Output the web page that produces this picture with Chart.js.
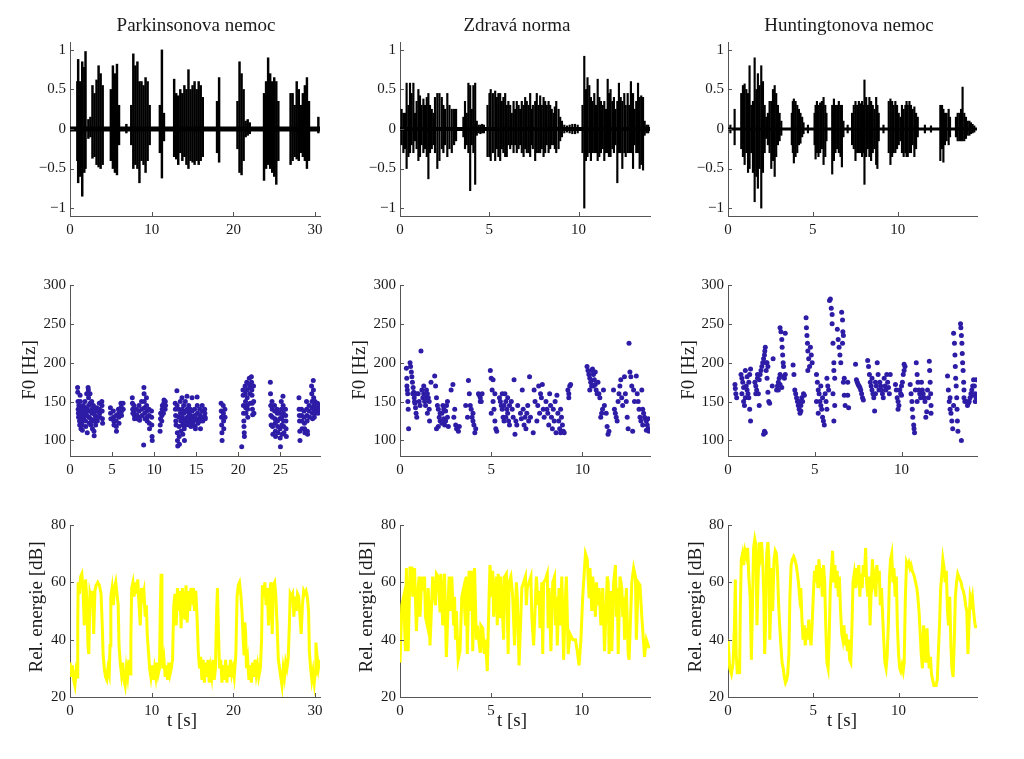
<!DOCTYPE html>
<html>
<head>
<meta charset="utf-8">
<script src="https://cdn.jsdelivr.net/npm/chart.js@4.4.0/dist/chart.umd.min.js"></script>
<style>
body { margin: 0; background: #fff; }
#page { position: relative; width: 1024px; height: 759px; overflow: hidden;
        font-family: "Liberation Serif", "DejaVu Serif", serif; color: #1a1a1a; }
#page canvas { position: absolute; }
.lbl { position: absolute; font-size: 19px; line-height: 24px; white-space: nowrap; }
.rot { transform: translate(-50%, -50%) rotate(-90deg); }
</style>
</head>
<body>
<div id="page"></div>
<script>
// Speech signal, F0 and relative energy for three speakers

const titles = ['Parkinsonova nemoc', 'Zdravá norma', 'Huntingtonova nemoc'];

// axis limits (seconds)
const parkDur = 30.6, parkF0Dur = 29.7;
const normDur = 14.0, normF0Dur = 13.7, normEnDur = 13.75;
const huntDur = 14.67, huntF0Dur = 14.35, huntEnDur = 14.6;

// tick labels
const waveTicksY = [-1, -0.5, 0, 0.5, 1];
const f0TicksY = [100, 150, 200, 250, 300];
const enTicksY = [20, 40, 60, 80];
const parkTicksX = [0, 10, 20, 30];
const parkF0TicksX = [0, 5, 10, 15, 20, 25];
const shortTicksX = [0, 5, 10];

// waveform envelope: [time s, min, max]
const parkWave = [
  [0.9,-0.4,0.6],[1.0,-0.68,0.88],[1.25,-0.6,0.6],[1.5,-0.85,0.85],[1.75,-0.55,0.78],[1.9,-0.5,0.98],
  [2.25,-0.12,0.12],[2.5,-0.1,0.15],[2.75,-0.37,0.55],[3.0,-0.35,0.45],[3.25,-0.45,0.62],[3.5,-0.48,0.8],
  [3.75,-0.5,0.7],[4.0,-0.45,0.55],
  [5.0,-0.4,0.5],[5.25,-0.5,0.8],[5.5,-0.55,0.7],[5.75,-0.58,0.82],[6.0,-0.2,0.3],
  [6.9,-0.05,0.06],
  [7.5,-0.2,0.3],[7.75,-0.5,0.95],[8.0,-0.45,0.8],[8.25,-0.5,0.85],[8.5,-0.68,0.6],[8.75,-0.4,0.6],
  [9.0,-0.45,0.55],[9.25,-0.55,0.65],[9.5,-0.4,0.6],[9.75,-0.2,0.3],
  [11.0,-0.3,0.3],[11.25,-0.62,1.0],[11.5,-0.15,0.2],
  [12.75,-0.35,0.63],[13.0,-0.38,0.45],[13.25,-0.45,0.42],[13.5,-0.3,0.5],[13.75,-0.4,0.45],[14.0,-0.35,0.55],
  [14.25,-0.45,0.5],[14.5,-0.5,0.75],[14.75,-0.4,0.5],[15.0,-0.42,0.55],[15.25,-0.45,0.6],[15.5,-0.4,0.5],
  [15.75,-0.45,0.6],[16.0,-0.4,0.55],[16.25,-0.35,0.4],
  [18.0,-0.3,0.35],[18.25,-0.42,0.65],
  [20.5,-0.25,0.35],[20.75,-0.55,0.85],[21.0,-0.58,0.7],[21.25,-0.4,0.5],[21.5,-0.1,0.1],[21.75,-0.08,0.12],[22.0,-0.06,0.08],
  [23.75,-0.65,0.45],[24.0,-0.5,0.6],[24.25,-0.45,0.9],[24.5,-0.5,0.7],[24.75,-0.55,0.6],[25.0,-0.6,0.65],
  [25.25,-0.7,0.6],[25.5,-0.4,0.35],
  [27.0,-0.45,0.45],[27.25,-0.4,0.45],[27.5,-0.35,0.3],[27.75,-0.38,0.6],[28.0,-0.4,0.5],[28.25,-0.3,0.3],
  [28.5,-0.35,0.45],[28.75,-0.4,0.55],[29.0,-0.5,0.65],[29.25,-0.4,0.35],
  [30.4,-0.05,0.15]
];
const normWave = [
  [0.09,-0.2,0.25],[0.19,-0.3,0.2],[0.28,-0.25,0.2],[0.37,-0.5,0.58],[0.47,-0.35,0.3],[0.56,-0.3,0.58],
  [0.65,-0.2,0.45],[0.75,-0.3,0.58],[0.84,-0.15,0.2],[0.93,-0.25,0.35],[1.03,-0.4,0.5],[1.12,-0.35,0.42],
  [1.21,-0.2,0.3],[1.31,-0.3,0.38],[1.40,-0.25,0.3],[1.50,-0.35,0.4],[1.59,-0.63,0.45],[1.68,-0.3,0.3],
  [1.78,-0.25,0.25],[1.87,-0.2,0.2],[1.96,-0.3,0.4],[2.09,-0.5,0.45],[2.21,-0.4,0.45],[2.34,-0.25,0.4],
  [2.43,-0.3,0.3],[2.52,-0.2,0.25],[2.65,-0.35,0.45],[2.77,-0.25,0.3],[2.90,-0.3,0.25],[3.03,-0.2,0.25],[3.14,-0.15,0.25],
  [3.55,-0.1,0.15],[3.64,-0.25,0.35],[3.74,-0.2,0.2],[3.83,-0.3,0.58],[3.93,-0.78,0.55],[4.02,-0.2,0.25],
  [4.11,-0.3,0.55],[4.21,-0.7,0.58],[4.30,-0.08,0.1],[4.4,-0.05,0.05],[4.5,-0.06,0.05],[4.6,-0.05,0.06],[4.7,-0.05,0.05],
  [4.90,-0.35,0.3],[5.01,-0.35,0.45],[5.08,-0.4,0.5],[5.20,-0.3,0.45],[5.33,-0.4,0.48],[5.42,-0.25,0.4],
  [5.51,-0.35,0.45],[5.61,-0.4,0.45],[5.70,-0.25,0.35],[5.79,-0.3,0.4],[5.89,-0.35,0.45],[5.98,-0.35,0.3],
  [6.07,-0.2,0.35],[6.17,-0.25,0.3],[6.26,-0.2,0.2],[6.36,-0.3,0.35],[6.45,-0.2,0.25],[6.54,-0.3,0.35],
  [6.64,-0.25,0.3],[6.73,-0.2,0.25],
  [6.82,-0.3,0.35],[6.92,-0.35,0.3],[7.01,-0.25,0.4],[7.10,-0.3,0.35],[7.20,-0.3,0.3],[7.29,-0.35,0.45],
  [7.37,-0.2,0.25],[7.44,-0.25,0.3],[7.57,-0.4,0.35],[7.66,-0.3,0.45],[7.76,-0.3,0.3],[7.85,-0.3,0.42],
  [7.94,-0.25,0.3],[8.04,-0.35,0.4],[8.13,-0.3,0.35],[8.22,-0.2,0.3],[8.32,-0.3,0.35],[8.41,-0.25,0.3],
  [8.50,-0.2,0.25],[8.60,-0.2,0.2],[8.67,-0.25,0.28],[8.75,-0.3,0.35],[8.88,-0.25,0.25],[8.97,-0.15,0.15],[9.07,-0.1,0.1],
  [9.2,-0.05,0.05],[9.35,-0.04,0.04],[9.5,-0.05,0.05],[9.65,-0.06,0.06],[9.8,-0.06,0.06],[9.95,-0.05,0.05],
  [10.22,-0.3,0.3],[10.32,-1.0,0.92],[10.41,-0.4,0.5],[10.50,-0.35,0.65],[10.60,-0.3,0.55],[10.69,-0.4,0.4],
  [10.79,-0.3,0.35],[10.88,-0.3,0.45],[10.97,-0.3,0.3],[11.07,-0.4,0.63],[11.16,-0.35,0.4],[11.25,-0.3,0.35],
  [11.35,-0.25,0.3],[11.44,-0.4,0.35],[11.53,-0.3,0.25],[11.63,-0.3,0.63],[11.70,-0.35,0.45],[11.79,-0.35,0.5],
  [11.89,-0.25,0.35],[11.98,-0.3,0.4],[12.07,-0.2,0.25],[12.17,-0.68,0.35],[12.26,-0.3,0.58],[12.36,-0.3,0.4],
  [12.45,-0.5,0.35],[12.56,-0.3,0.45],[12.64,-0.35,0.3],[12.75,-0.3,0.45],[12.84,-0.3,0.3],[12.93,-0.3,0.6],
  [13.05,-0.5,0.45],[13.14,-0.2,0.25],[13.23,-0.3,0.35],[13.33,-0.3,0.58],[13.42,-0.5,0.4],[13.51,-0.45,0.42],
  [13.61,-0.52,0.4],[13.70,-0.08,0.1],[13.8,-0.05,0.05],[13.9,-0.05,0.05]
];
const huntWave = [
  [0.14,-0.05,0.05],[0.39,-0.2,0.25],
  [0.78,-0.25,0.45],[0.88,-0.35,0.55],[0.98,-0.45,0.57],[1.08,-0.3,0.5],[1.18,-0.55,0.45],[1.27,-0.5,0.8],
  [1.37,-0.3,0.3],[1.47,-0.55,0.35],[1.57,-0.92,0.9],[1.67,-0.6,0.5],[1.76,-0.75,0.7],[1.86,-0.5,0.55],
  [1.96,-1.0,0.8],[2.06,-0.55,0.6],[2.16,-0.3,0.3],[2.25,-0.12,0.15],[2.35,-0.2,0.2],[2.45,-0.3,0.35],
  [2.55,-0.5,0.35],[2.65,-0.4,0.5],[2.75,-0.6,0.55],[2.84,-0.35,0.45],[2.94,-0.2,0.3],[3.04,-0.15,0.2],[3.14,-0.08,0.1],
  [3.76,-0.2,0.2],[3.82,-0.3,0.35],[3.88,-0.43,0.38],[3.98,-0.35,0.35],[4.08,-0.3,0.3],[4.18,-0.2,0.25],
  [4.27,-0.18,0.2],[4.37,-0.1,0.15],[4.45,-0.06,0.08],[4.71,-0.05,0.05],
  [5.10,-0.2,0.2],[5.16,-0.38,0.3],[5.24,-0.3,0.35],[5.33,-0.35,0.3],[5.43,-0.3,0.33],[5.53,-0.25,0.35],
  [5.63,-0.45,0.4],[5.73,-0.35,0.3],[5.80,-0.15,0.2],
  [6.14,-0.57,0.3],[6.24,-0.4,0.38],[6.33,-0.3,0.3],[6.43,-0.25,0.3],[6.53,-0.3,0.35],[6.63,-0.35,0.3],
  [6.71,-0.48,0.3],[6.80,-0.1,0.1],[7.05,-0.05,0.05],
  [7.31,-0.2,0.2],[7.41,-0.25,0.3],[7.51,-0.4,0.35],[7.61,-0.3,0.3],[7.71,-0.3,0.35],[7.80,-0.3,0.32],
  [7.90,-0.35,0.35],[7.98,-0.3,0.3],[8.04,-0.7,0.62],[8.14,-0.35,0.4],[8.24,-0.25,0.3],[8.33,-0.35,0.4],
  [8.43,-0.4,0.35],[8.53,-0.3,0.3],[8.63,-0.25,0.25],[8.73,-0.45,0.4],[8.80,-0.5,0.3],[8.88,-0.15,0.2],
  [9.16,-0.05,0.05],
  [9.47,-0.3,0.35],[9.57,-0.45,0.38],[9.67,-0.35,0.35],[9.76,-0.3,0.3],[9.86,-0.3,0.35],[9.96,-0.25,0.3],
  [10.06,-0.2,0.2],[10.16,-0.15,0.15],[10.25,-0.3,0.3],[10.35,-0.35,0.25],[10.45,-0.3,0.3],[10.52,-0.35,0.35],
  [10.59,-0.35,0.3],[10.69,-0.3,0.35],[10.78,-0.3,0.3],[10.88,-0.2,0.25],[10.98,-0.35,0.28],[11.08,-0.25,0.2],[11.18,-0.1,0.15],
  [11.6,-0.05,0.05],[11.96,-0.04,0.04],
  [12.51,-0.4,0.3],[12.61,-0.25,0.3],[12.69,-0.42,0.25],[12.78,-0.2,0.2],[12.88,-0.15,0.2],[13.0,-0.2,0.25],[13.08,-0.1,0.15],
  [13.43,-0.1,0.15],[13.53,-0.15,0.2],[13.63,-0.15,0.2],[13.73,-0.15,0.25],[13.82,-0.15,0.53],[13.92,-0.15,0.2],
  [14.02,-0.12,0.15],[14.12,-0.08,0.1],[14.22,-0.08,0.1],[14.31,-0.06,0.08],[14.41,-0.05,0.06],[14.51,-0.04,0.04]
];

// fundamental frequency: [time s, Hz]
const parkF0 = [
  [0.90,168],[0.92,162],[0.95,150],[0.97,140],[1.00,135],[1.02,130],[1.05,145],[1.08,138],[1.10,132],[1.13,125],[1.15,120],
  [1.20,158],[1.22,150],[1.25,142],[1.27,135],[1.30,115],[1.38,140],[1.40,130],[1.42,125],[1.45,120],[1.47,113],
  [1.58,145],[1.60,138],[1.62,132],[1.65,128],[1.78,150],[1.80,142],[1.82,135],[1.85,125],[1.87,118],
  [1.98,160],[2.00,140],[2.02,132],[2.05,110],[2.15,168],[2.18,165],[2.20,155],[2.22,145],[2.25,138],[2.27,130],[2.30,122],
  [2.38,160],[2.40,148],[2.42,138],[2.45,128],[2.47,120],[2.58,150],[2.60,140],[2.62,135],[2.65,125],[2.67,115],
  [2.78,145],[2.80,135],[2.82,125],[2.85,112],[2.87,106],[2.98,140],[3.00,132],[3.02,128],[3.05,120],
  [3.18,142],[3.20,138],[3.22,130],[3.25,125],[3.48,148],[3.50,140],[3.52,135],[3.55,130],
  [3.78,150],[3.80,145],[3.82,138],[3.85,128],[3.87,122],
  [4.80,142],[4.82,135],[4.85,128],[5.15,138],[5.18,130],[5.20,125],[5.22,120],[5.45,132],[5.48,125],[5.50,118],[5.52,112],
  [5.75,140],[5.78,135],[5.80,130],[5.82,122],[6.05,148],[6.08,143],[6.10,137],[6.12,132],[6.30,148],[6.32,140],
  [7.40,155],[7.42,148],[7.45,140],[7.47,135],[7.60,145],[7.62,138],[7.65,132],[7.67,128],[7.90,140],[7.92,133],[7.95,128],
  [8.20,145],[8.22,138],[8.25,130],[8.27,126],[8.50,150],[8.52,140],[8.55,132],[8.78,168],[8.80,160],[8.82,150],
  [8.85,142],[8.87,135],[8.90,128],[8.75,94],[9.08,155],[9.10,145],[9.12,138],[9.15,130],[9.17,125],
  [9.38,140],[9.40,132],[9.42,122],[9.45,115],[9.68,138],[9.70,130],[9.72,120],[9.75,105],[9.77,100],
  [10.70,112],[10.72,120],[10.75,128],[10.77,135],[10.90,125],[10.92,132],[10.95,140],[10.97,145],
  [11.10,135],[11.12,142],[11.15,148],[11.17,152],[11.30,140],[11.32,150],[11.35,145],
  [12.50,148],[12.52,140],[12.55,132],[12.57,125],[12.60,120],[12.70,164],[12.72,145],[12.75,110],[12.77,100],[12.80,93],
  [12.90,140],[12.92,130],[12.95,118],[12.97,105],[13.00,95],[13.10,150],[13.12,135],[13.15,125],[13.17,112],
  [13.30,155],[13.32,140],[13.35,130],[13.37,120],[13.40,108],[13.50,145],[13.52,135],[13.55,125],[13.57,115],[13.60,100],
  [13.70,150],[13.72,138],[13.75,128],[13.77,120],[13.90,157],[13.92,140],[13.95,130],[13.97,125],
  [14.10,145],[14.12,135],[14.15,128],[14.17,120],[14.30,140],[14.32,132],[14.35,125],[14.37,118],
  [14.50,155],[14.52,138],[14.55,130],[14.57,122],[14.80,140],[14.82,132],[14.85,126],[14.87,118],[14.90,115],
  [15.10,156],[15.12,145],[15.15,135],[15.17,128],[15.20,122],[15.40,140],[15.42,133],[15.45,128],[15.47,125],[15.50,115],
  [15.70,145],[15.72,138],[15.75,130],[15.77,125],[16.00,140],[16.02,135],[16.05,130],[16.07,128],
  [17.95,148],[17.97,138],[18.00,130],[18.02,120],[18.05,110],[18.07,100],[18.20,145],[18.22,135],[18.25,125],[18.27,115],
  [18.40,140],[18.42,130],
  [20.40,92],[20.55,165],[20.57,158],[20.60,145],[20.62,135],[20.65,125],[20.67,118],[20.70,110],[20.72,105],
  [20.80,170],[20.82,160],[20.85,150],[20.87,142],[20.90,135],[21.00,175],[21.02,165],[21.05,155],[21.07,145],[21.10,140],[21.12,130],
  [21.30,180],[21.32,172],[21.35,168],[21.37,160],[21.40,148],[21.55,182],[21.57,175],[21.60,165],[21.62,158],[21.65,148],
  [21.67,140],[21.70,133],[21.80,170],[21.82,150],[21.85,135],
  [23.80,175],[23.82,160],[23.85,145],[23.87,132],[23.90,120],[24.00,150],[24.02,140],[24.05,130],[24.07,118],[24.10,108],
  [24.30,145],[24.32,138],[24.35,128],[24.37,122],[24.40,112],[24.42,105],[24.60,140],[24.62,135],[24.65,125],[24.67,118],[24.70,110],
  [24.90,135],[24.92,128],[24.95,115],[24.97,103],[25.00,92],[25.10,150],[25.12,140],[25.15,130],[25.17,120],[25.20,108],
  [25.30,157],[25.32,145],[25.35,135],[25.37,125],[25.40,118],[25.42,110],[25.60,140],[25.62,132],[25.65,125],[25.67,115],[25.70,105],
  [27.20,155],[27.22,140],[27.25,132],[27.27,125],[27.30,112],[27.32,100],[27.50,140],[27.52,132],[27.55,125],[27.57,115],
  [27.80,138],[27.82,130],[27.85,122],[27.87,115],[27.90,110],[28.10,150],[28.12,140],[28.15,132],[28.17,125],[28.20,112],[28.22,108],
  [28.40,145],[28.42,138],[28.45,130],[28.70,170],[28.72,160],[28.75,150],[28.77,142],[28.80,135],[28.82,128],
  [28.90,177],[28.92,165],[28.95,155],[28.97,145],[29.00,138],[29.02,130],[29.10,150],[29.12,142],[29.15,135],
  [29.40,148],[29.42,142],[29.45,138],[29.47,135],[29.60,145],[29.62,140]
];
const normF0 = [
  [0.35,193],[0.37,180],[0.38,170],[0.40,165],[0.42,160],[0.43,150],[0.45,140],[0.47,115],
  [0.55,200],[0.58,195],[0.62,188],[0.65,182],[0.68,175],[0.72,168],[0.75,162],[0.78,155],[0.82,148],[0.85,142],
  [0.88,135],[0.92,130],[0.70,160],[0.80,150],[0.90,160],
  [1.00,160],[1.05,150],[1.10,145],[1.15,215],[1.20,165],[1.25,155],[1.30,160],[1.35,150],[1.40,145],[1.45,165],
  [1.50,160],[1.55,155],[1.60,140],[1.62,125],[1.70,175],[1.50,135],[1.30,170],[1.40,155],[1.60,150],
  [1.90,183],[1.95,170],[2.00,155],[2.05,145],[2.10,140],[2.15,130],[2.20,125],[2.10,118],[2.30,135],[2.35,145],
  [2.40,128],[2.45,120],[2.50,138],[2.55,145],[2.60,150],[2.60,130],[2.65,118],[2.00,115],[2.20,135],[2.40,140],[2.50,125],[2.30,122],
  [2.80,165],[2.90,172],[2.95,130],[3.00,140],[3.05,120],[3.10,115],[3.20,112],[3.25,118],
  [3.60,145],[3.70,130],[3.75,177],[3.80,160],[3.85,145],[3.90,140],[3.95,130],[4.00,125],[4.05,120],[4.10,110],[4.15,115],[4.00,135],
  [4.30,160],[4.35,158],[4.40,155],[4.45,150],[4.50,160],[4.40,150],
  [4.95,190],[5.00,180],[5.05,165],[5.10,150],[5.15,140],[5.20,125],[5.25,115],[5.00,135],[5.10,178],[5.20,160],[5.30,112],
  [5.45,155],[5.50,150],[5.55,145],[5.60,140],[5.65,130],[5.70,125],[5.75,160],[5.80,150],[5.85,140],[5.90,135],
  [5.95,125],[6.00,120],[5.60,160],[5.70,145],[5.80,130],[5.90,155],[6.00,145],
  [6.10,150],[6.15,140],[6.20,130],[6.25,178],[6.30,108],[6.35,125],[6.40,120],[6.45,145],
  [6.60,135],[6.65,128],[6.70,165],[6.75,140],[6.80,120],[6.85,130],[6.90,115],[6.95,135],[7.00,145],[7.05,125],[7.10,182],[7.15,130],
  [7.30,110],[7.35,165],[7.40,150],[7.50,125],[7.55,145],[7.60,170],[7.65,135],[7.70,160],[7.75,155],[7.80,172],[7.85,140],[7.90,130],
  [8.00,150],[8.05,140],[8.10,135],[8.15,120],[8.20,160],[8.25,145],[8.30,130],[8.35,115],[8.40,140],[8.45,125],[8.50,150],[8.55,110],[8.60,158],
  [8.65,135],[8.70,125],[8.75,115],[8.80,110],[8.85,130],[8.90,120],[8.95,112],[9.00,110],[8.80,140],
  [9.20,165],[9.25,160],[9.30,170],[9.35,172],[9.25,155],
  [10.25,195],[10.30,190],[10.35,185],[10.40,180],[10.45,175],[10.50,170],[10.55,192],[10.60,185],[10.65,178],[10.70,172],
  [10.75,165],[10.80,160],[10.40,165],[10.50,190],[10.60,170],[10.70,188],
  [10.85,175],[10.90,160],[10.95,155],[11.00,130],[11.05,135],[11.10,140],[11.15,165],[11.20,145],[11.30,135],[11.35,118],[11.40,108],[11.45,112],
  [11.70,165],[11.75,140],[11.80,135],[11.85,130],[11.90,125],[11.95,150],[12.00,160],[12.05,170],[12.10,178],[12.15,155],[12.20,145],
  [12.30,182],[12.35,160],[12.40,150],[12.45,130],[12.50,115],[12.55,225],[12.60,188],[12.65,182],[12.70,170],[12.75,112],[12.80,165],[12.85,150],
  [12.95,183],[13.00,160],[13.05,150],[13.10,140],[13.15,130],[13.20,125],[13.25,165],[13.30,140],[13.35,135],[13.40,130],
  [13.45,128],[13.50,125],[13.55,120],[13.60,115],[13.65,112],[13.50,113],[13.60,128],[13.30,120]
];
const huntF0 = [
  [0.40,172],[0.42,167],[0.45,160],[0.50,155],
  [0.75,185],[0.80,180],[0.85,175],[0.80,160],[0.90,150],[0.95,145],[1.00,190],[1.05,170],[1.10,165],[1.15,160],[1.20,155],
  [1.25,185],[1.25,140],[1.30,125],[1.00,155],[1.10,182],[1.20,175],[0.90,168],[1.30,192],
  [1.55,175],[1.60,170],[1.65,165],[1.70,180],[1.75,160],[1.80,145],[1.85,185],[1.90,190],[1.95,195],[2.00,200],[1.70,185],[1.80,178],[1.60,160],
  [2.05,205],[2.10,210],[2.12,215],[2.15,220],[2.20,200],[2.10,112],[2.05,108],[2.15,110],[2.20,190],[2.25,180],[2.30,162],
  [2.35,150],[2.40,148],[2.30,195],[2.25,200],[2.60,205],[2.55,170],
  [2.80,165],[2.85,170],[2.90,175],[2.95,180],[3.00,185],[3.00,245],[3.05,240],[3.10,230],[3.12,220],[3.15,210],[3.18,200],
  [3.20,195],[3.20,182],[3.25,180],[3.10,168],[3.00,172],[2.90,165],[3.30,238],[3.30,185],
  [3.75,197],[3.80,185],[3.85,165],[3.90,160],[3.95,155],[4.00,150],[4.05,145],[4.10,140],[4.15,135],[4.20,145],[4.25,155],
  [4.30,150],[4.35,160],[4.40,158],[4.20,138],[4.10,150],
  [4.50,258],[4.52,245],[4.55,235],[4.58,225],[4.60,215],[4.65,205],[4.70,195],[4.75,220],[4.80,210],[4.85,200],[4.60,190],
  [5.10,185],[5.15,175],[5.20,165],[5.25,160],[5.30,150],[5.35,145],[5.40,140],[5.45,130],[5.50,125],[5.55,120],[5.20,135],
  [5.35,170],[5.45,155],[5.10,150],[5.60,160],[5.65,150],[5.70,180],[5.75,170],[5.80,165],[5.70,140],
  [5.85,280],[5.90,282],[5.95,270],[6.00,262],[6.00,250],[6.05,225],[6.10,200],[6.10,190],[6.15,180],[6.15,145],[6.10,125],[6.05,160],
  [6.30,243],[6.35,230],[6.40,220],[6.45,210],[6.50,200],[6.55,265],[6.60,255],[6.62,240],[6.65,235],[6.70,180],[6.70,158],
  [6.75,145],[6.65,175],[6.60,225],[6.90,158],[6.95,142],[6.90,175],
  [7.35,198],[7.40,178],[7.45,175],[7.50,172],[7.55,170],[7.60,168],[7.65,165],[7.70,160],[7.75,155],[7.80,152],
  [8.05,203],[8.10,195],[8.15,185],[8.20,175],[8.25,170],[8.30,165],[8.35,160],[8.40,155],[8.45,138],[8.50,175],[8.55,170],
  [8.60,200],[8.65,185],[8.70,165],[8.30,180],[8.50,160],
  [8.75,175],[8.80,170],[8.85,165],[8.90,160],[8.95,155],[9.00,180],[9.05,170],[9.10,165],[9.15,185],[9.20,175],[9.25,168],[9.30,160],[9.35,185],
  [9.65,172],[9.70,165],[9.75,155],[9.80,150],[9.85,145],[9.90,165],[9.95,160],[10.00,170],[10.05,175],[10.10,185],[10.15,190],
  [10.20,195],[10.15,198],[10.00,158],[9.80,140],
  [10.50,172],[10.55,160],[10.60,150],[10.62,140],[10.65,130],[10.70,120],[10.72,115],[10.75,110],[10.80,165],[10.85,200],
  [10.90,185],[10.95,175],[11.00,165],[11.05,160],[11.10,155],[10.90,150],
  [11.15,175],[11.20,165],[11.25,160],[11.30,155],[11.35,150],[11.40,130],[11.45,137],[11.50,165],[11.55,155],[11.60,202],
  [11.62,190],[11.65,175],[11.68,160],[11.70,145],[11.70,135],
  [12.65,183],[12.70,165],[12.75,150],[12.80,140],[12.85,135],[12.90,125],[12.95,115],[13.00,238],[13.05,225],[13.08,210],
  [13.10,195],[13.12,180],[13.15,170],[13.18,155],[13.20,140],[13.22,125],[13.25,112],[12.80,155],[13.00,145],
  [13.40,250],[13.42,245],[13.45,235],[13.48,225],[13.50,212],[13.52,200],[13.55,190],[13.58,175],[13.60,165],[13.45,100],[13.60,155],[13.65,150],
  [13.75,150],[13.80,145],[13.85,148],[13.90,150],[13.95,155],[14.00,160],[14.05,165],[14.10,170],[14.15,178],[14.20,170],
  [14.25,160],[14.30,155],[14.30,178],[14.25,150],[14.10,158]
];

// relative energy: [time s, dB]
const parkEn = [
  [0.0,32],[0.15,27],[0.3,31],[0.45,26],[0.6,24],[0.75,29],[0.9,27],[0.95,45],[1.0,60],[1.15,56],[1.3,62],[1.45,63],
  [1.6,57],[1.75,45],[1.9,61],[2.05,55],[2.2,38],[2.3,35],[2.45,56],[2.6,54],[2.75,57],[2.9,42],[3.05,57],[3.2,59],
  [3.4,60],[3.6,59],[3.8,56],[3.95,45],[4.05,35],[4.2,30],[4.35,27],[4.5,26],[4.65,30],[4.8,28],[4.9,38],[5.0,55],
  [5.15,58],[5.3,52],[5.45,58],[5.6,60],[5.75,56],[5.9,52],[6.0,38],[6.15,32],[6.3,28],[6.45,32],[6.6,26],[6.75,24],
  [6.9,30],[7.05,27],[7.2,33],[7.35,28],[7.45,40],[7.55,58],[7.7,60],[7.85,55],[8.0,60],[8.15,56],[8.3,61],[8.45,52],
  [8.6,45],[8.75,58],[8.9,55],[9.05,57],[9.2,48],[9.35,52],[9.45,42],[9.6,36],[9.75,30],[9.9,27],[10.05,31],[10.2,26],
  [10.35,30],[10.5,27],[10.65,32],[10.8,28],[10.95,30],[11.05,50],[11.15,63],[11.25,40],[11.35,30],[11.5,33],[11.65,27],
  [11.8,31],[11.95,26],[12.1,32],[12.25,28],[12.4,30],[12.55,33],[12.7,52],[12.85,56],[13.0,45],[13.15,58],[13.3,50],
  [13.45,57],[13.6,44],[13.75,58],[13.9,52],[14.05,47],[14.2,59],[14.35,46],[14.5,57],[14.65,50],[14.8,58],[14.95,55],
  [15.1,58],[15.25,50],[15.4,57],[15.55,48],[15.7,36],[15.85,30],[16.0,34],[16.15,26],[16.3,33],[16.45,25],[16.6,32],
  [16.75,27],[16.9,33],[17.05,25],[17.2,30],[17.35,27],[17.5,33],[17.65,26],[17.8,30],[17.95,50],[18.05,58],[18.15,45],
  [18.3,30],[18.45,33],[18.6,25],[18.75,31],[18.9,26],[19.05,33],[19.2,25],[19.35,31],[19.5,27],[19.65,33],[19.8,28],
  [19.95,30],[20.1,27],[20.3,35],[20.45,55],[20.6,59],[20.75,60],[20.9,56],[21.05,50],[21.2,40],[21.3,35],[21.4,46],
  [21.5,42],[21.6,30],[21.75,33],[21.9,26],[22.05,31],[22.2,25],[22.35,32],[22.5,27],[22.65,33],[22.8,28],[22.95,31],
  [23.1,27],[23.3,30],[23.45,40],[23.55,59],[23.7,55],[23.85,60],[24.0,52],[24.15,58],[24.3,45],[24.45,57],[24.6,60],
  [24.75,42],[24.9,59],[25.05,60],[25.2,55],[25.35,45],[25.5,33],[25.65,30],[25.8,27],[25.95,24],[26.1,30],[26.25,27],
  [26.4,32],[26.55,30],[26.7,33],[26.85,45],[26.95,56],[27.1,55],[27.25,56],[27.4,48],[27.55,55],[27.7,50],[27.85,56],
  [28.0,55],[28.15,48],[28.3,42],[28.45,52],[28.6,57],[28.75,56],[28.9,57],[29.05,55],[29.2,50],[29.3,36],[29.45,30],
  [29.6,26],[29.75,29],[29.9,25],[30.0,28],[30.1,39],[30.25,34],[30.4,30],[30.55,33]
];
const normEn = [
  [0.0,32],[0.1,52],[0.2,55],[0.3,36],[0.35,65],[0.45,36],[0.55,65],[0.65,65],[0.7,55],[0.8,65],[0.9,43],[1.0,58],
  [1.05,62],[1.1,48],[1.2,62],[1.3,57],[1.35,62],[1.4,48],[1.5,45],[1.55,58],[1.65,38],[1.8,62],[1.95,52],[2.0,63],
  [2.1,62],[2.2,50],[2.25,63],[2.35,45],[2.45,63],[2.55,34],[2.7,62],[2.75,50],[2.85,62],[2.95,45],[3.0,55],[3.05,40],
  [3.1,50],[3.2,33],[3.3,36],[3.4,55],[3.5,58],[3.6,45],[3.65,62],[3.7,35],[3.8,64],[3.9,50],[3.95,64],[4.0,36],
  [4.1,65],[4.2,40],[4.25,45],[4.4,36],[4.45,45],[4.55,44],[4.65,35],[4.7,40],[4.8,29],[4.9,55],[4.95,66],[5.05,55],
  [5.1,64],[5.15,48],[5.3,62],[5.35,45],[5.4,63],[5.5,48],[5.55,62],[5.7,40],[5.75,62],[5.85,63],[5.95,35],[6.0,60],
  [6.1,62],[6.2,55],[6.3,38],[6.4,60],[6.45,55],[6.55,31],[6.7,58],[6.8,60],[6.9,62],[6.95,52],[7.0,58],[7.1,60],
  [7.2,62],[7.25,48],[7.35,38],[7.5,62],[7.6,52],[7.65,57],[7.7,44],[7.8,60],[7.85,35],[7.9,60],[8.0,61],[8.1,63],
  [8.15,44],[8.2,58],[8.3,36],[8.4,60],[8.5,62],[8.55,45],[8.6,55],[8.65,38],[8.75,58],[8.8,45],[8.9,62],[9.0,33],
  [9.1,55],[9.15,62],[9.25,35],[9.35,42],[9.5,40],[9.65,40],[9.75,36],[9.85,31],[9.95,40],[10.05,55],[10.2,70],
  [10.3,68],[10.4,55],[10.45,65],[10.55,50],[10.6,62],[10.75,48],[10.8,60],[10.9,52],[10.95,58],[11.05,45],[11.15,58],
  [11.25,36],[11.4,62],[11.45,60],[11.5,35],[11.6,57],[11.65,36],[11.75,60],[11.85,66],[11.9,48],[11.95,58],[12.0,35],
  [12.1,62],[12.2,58],[12.25,48],[12.3,55],[12.35,40],[12.45,58],[12.55,35],[12.6,33],[12.75,60],[12.85,65],[12.95,62],
  [13.0,40],[13.1,60],[13.2,59],[13.3,48],[13.45,34],[13.55,40],[13.7,37]
];
const huntEn = [
  [0.0,40],[0.1,30],[0.2,28],[0.3,32],[0.38,45],[0.43,61],[0.48,35],[0.55,28],[0.62,33],[0.68,28],[0.72,50],[0.78,68],
  [0.85,70],[0.92,66],[1.0,71],[1.08,69],[1.15,72],[1.22,62],[1.3,55],[1.37,33],[1.43,50],[1.5,72],[1.57,75],[1.63,73],
  [1.7,45],[1.76,60],[1.83,74],[1.9,70],[1.97,74],[2.05,65],[2.1,55],[2.15,35],[2.2,45],[2.27,70],[2.34,74],[2.4,68],
  [2.45,40],[2.5,50],[2.56,65],[2.62,50],[2.7,68],[2.77,71],[2.84,70],[2.9,64],[2.97,52],[3.03,45],[3.1,38],[3.17,32],
  [3.24,30],[3.3,27],[3.37,25],[3.44,26],[3.5,28],[3.57,35],[3.63,55],[3.7,66],[3.77,68],[3.85,69],[3.92,68],[4.0,66],
  [4.07,63],[4.13,60],[4.2,55],[4.27,58],[4.33,48],[4.4,40],[4.47,45],[4.53,38],[4.6,44],[4.67,40],[4.73,47],[4.8,42],
  [4.87,38],[4.93,45],[5.0,55],[5.07,64],[5.13,60],[5.2,66],[5.27,58],[5.33,68],[5.4,62],[5.47,65],[5.53,55],[5.6,66],
  [5.67,60],[5.73,45],[5.8,32],[5.87,30],[5.93,40],[6.0,58],[6.07,65],[6.13,71],[6.2,60],[6.27,66],[6.33,58],[6.4,64],
  [6.47,55],[6.53,62],[6.6,50],[6.67,42],[6.73,40],[6.8,45],[6.87,38],[6.93,42],[7.0,36],[7.07,40],[7.13,33],[7.2,32],
  [7.27,45],[7.33,60],[7.4,63],[7.47,58],[7.53,65],[7.6,62],[7.67,66],[7.73,55],[7.8,63],[7.87,58],[7.93,66],[8.0,62],
  [8.07,72],[8.13,60],[8.2,55],[8.27,62],[8.33,45],[8.4,58],[8.47,68],[8.53,60],[8.6,62],[8.67,55],[8.73,66],[8.8,60],
  [8.87,64],[8.93,52],[9.0,58],[9.07,48],[9.13,40],[9.2,32],[9.27,30],[9.33,34],[9.4,45],[9.47,62],[9.53,68],[9.6,70],
  [9.67,60],[9.73,65],[9.8,55],[9.87,62],[9.93,45],[10.0,35],[10.07,30],[10.13,29],[10.2,31],[10.27,29],[10.33,32],
  [10.4,55],[10.47,67],[10.53,66],[10.6,67],[10.67,65],[10.73,66],[10.8,64],[10.87,63],[10.93,62],[11.0,60],[11.07,58],
  [11.13,55],[11.2,50],[11.27,42],[11.33,35],[11.4,30],[11.47,45],[11.53,38],[11.6,32],[11.67,44],[11.73,36],[11.8,30],
  [11.87,34],[11.93,28],[12.0,26],[12.07,24],[12.13,24],[12.2,24],[12.27,26],[12.33,35],[12.4,45],[12.47,58],[12.53,62],
  [12.6,68],[12.67,65],[12.73,60],[12.8,64],[12.87,50],[12.93,45],[13.0,55],[13.07,38],[13.13,30],[13.2,27],[13.27,40],
  [13.33,55],[13.4,60],[13.47,63],[13.53,62],[13.6,61],[13.67,60],[13.73,58],[13.8,57],[13.87,55],[13.93,52],[14.0,50],
  [14.07,35],[14.13,45],[14.2,55],[14.27,53],[14.33,55],[14.4,50],[14.47,46],[14.53,44]
];

// layout (page pixels) of the 3x3 plot boxes
const COLX = [70, 400, 728], COLW = [250, 250, 249];
const ROWY = [41, 284, 524], ROWH = [175, 172, 173];
const YW = 62, XH = 30, PT = 12, PR = 10;
const page = document.getElementById('page');

Chart.defaults.font.family = '"Liberation Serif", "DejaVu Serif", serif';
Chart.defaults.font.size = 15;
Chart.defaults.color = '#1a1a1a';

const fmt = v => v < 0 ? '\u2212' + Math.abs(v) : String(v);

// MATLAB style inward tick marks
const inTicks = {
  id: 'inTicks',
  afterDatasetsDraw(chart) {
    const {ctx, chartArea: a, scales: {x, y}} = chart;
    ctx.save();
    ctx.strokeStyle = '#555';
    ctx.lineWidth = 1;
    ctx.beginPath();
    x.ticks.forEach(t => {
      const px = Math.round(x.getPixelForValue(t.value)) + 0.5;
      ctx.moveTo(px, a.bottom); ctx.lineTo(px, a.bottom - 4);
    });
    y.ticks.forEach(t => {
      const py = Math.round(y.getPixelForValue(t.value)) + 0.5;
      ctx.moveTo(a.left, py); ctx.lineTo(a.left + 4, py);
    });
    ctx.stroke();
    ctx.restore();
  }
};

function axis(min, max, ticks, isX) {
  return {
    type: 'linear', min, max, offset: false,
    grid: {display: true, drawOnChartArea: false, drawTicks: false},
    border: {display: true, color: '#555', width: 1},
    ticks: {padding: isX ? 5 : 4, maxRotation: 0, autoSkip: false, callback: fmt},
    afterBuildTicks: s => { s.ticks = ticks.map(v => ({value: v})); },
    afterFit: s => { if (isX) s.height = XH; else s.width = YW; }
  };
}

function panel(col, row, type, datasets, xmax, xt, ymin, ymax, yt) {
  const cv = document.createElement('canvas');
  cv.width = YW + COLW[col] + PR;
  cv.height = PT + ROWH[row] + XH;
  cv.style.left = (COLX[col] - YW) + 'px';
  cv.style.top = (ROWY[row] - PT) + 'px';
  page.appendChild(cv);
  new Chart(cv, {
    type,
    data: {datasets},
    options: {
      responsive: false, animation: false, events: [],
      layout: {padding: {top: PT, right: PR, left: 0, bottom: 0}},
      plugins: {legend: {display: false}, tooltip: {enabled: false}},
      scales: {x: axis(0, xmax, xt, true), y: axis(ymin, ymax, yt, false)}
    },
    plugins: [inTicks]
  });
}

function waveSets(wave, dur, band, thick) {
  return [
    {type: 'line', data: [{x: 0, y: 0}, {x: dur, y: 0}], borderColor: '#000', borderWidth: band, pointRadius: 0},
    {type: 'bar', data: wave.map(([t, lo, hi]) => ({x: t, y: [lo, hi]})), backgroundColor: '#000',
     borderWidth: 0, barThickness: thick, grouped: false}
  ];
}
function f0Sets(f0) {
  return [{data: f0.map(([t, v]) => ({x: t, y: v})), backgroundColor: '#2d1ca6', borderWidth: 0, pointRadius: 2.5}];
}
function enSets(en) {
  return [{data: en.map(([t, v]) => ({x: t, y: v})), borderColor: '#ffff00', borderWidth: 3, pointRadius: 0, tension: 0}];
}

// row 1: waveforms
panel(0, 0, 'bar', waveSets(parkWave, parkDur, 5, 1.8), parkDur, parkTicksX, -1.1, 1.1, waveTicksY);
panel(1, 0, 'bar', waveSets(normWave, normDur, 4, 1.5), normDur, shortTicksX, -1.1, 1.1, waveTicksY);
panel(2, 0, 'bar', waveSets(huntWave, huntDur, 3, 1.5), huntDur, shortTicksX, -1.1, 1.1, waveTicksY);
// row 2: F0
panel(0, 1, 'scatter', f0Sets(parkF0), parkF0Dur, parkF0TicksX, 80, 300, f0TicksY);
panel(1, 1, 'scatter', f0Sets(normF0), normF0Dur, shortTicksX, 80, 300, f0TicksY);
panel(2, 1, 'scatter', f0Sets(huntF0), huntF0Dur, shortTicksX, 80, 300, f0TicksY);
// row 3: energy
panel(0, 2, 'line', enSets(parkEn), parkDur, parkTicksX, 20, 80, enTicksY);
panel(1, 2, 'line', enSets(normEn), normEnDur, shortTicksX, 20, 80, enTicksY);
panel(2, 2, 'line', enSets(huntEn), huntEnDur, shortTicksX, 20, 80, enTicksY);

// texts
function text(str, x, y, rotated) {
  const d = document.createElement('div');
  d.className = 'lbl' + (rotated ? ' rot' : '');
  d.textContent = str;
  if (rotated) { d.style.left = x + 'px'; d.style.top = y + 'px'; }
  else { d.style.left = (x - 150) + 'px'; d.style.width = '300px'; d.style.textAlign = 'center'; d.style.top = y + 'px'; }
  page.appendChild(d);
}
const titleX = [196, 517, 849];
titles.forEach((t, i) => text(t, titleX[i], 13, false));
[[29, 370], [359, 370], [688, 370]].forEach(p => text('F0 [Hz]', p[0], p[1], true));
[[36, 607], [366, 607], [695, 607]].forEach(p => text('Rel. energie [dB]', p[0], p[1], true));
[182, 512, 842].forEach(x => text('t [s]', x, 708, false));
</script>
</body>
</html>
